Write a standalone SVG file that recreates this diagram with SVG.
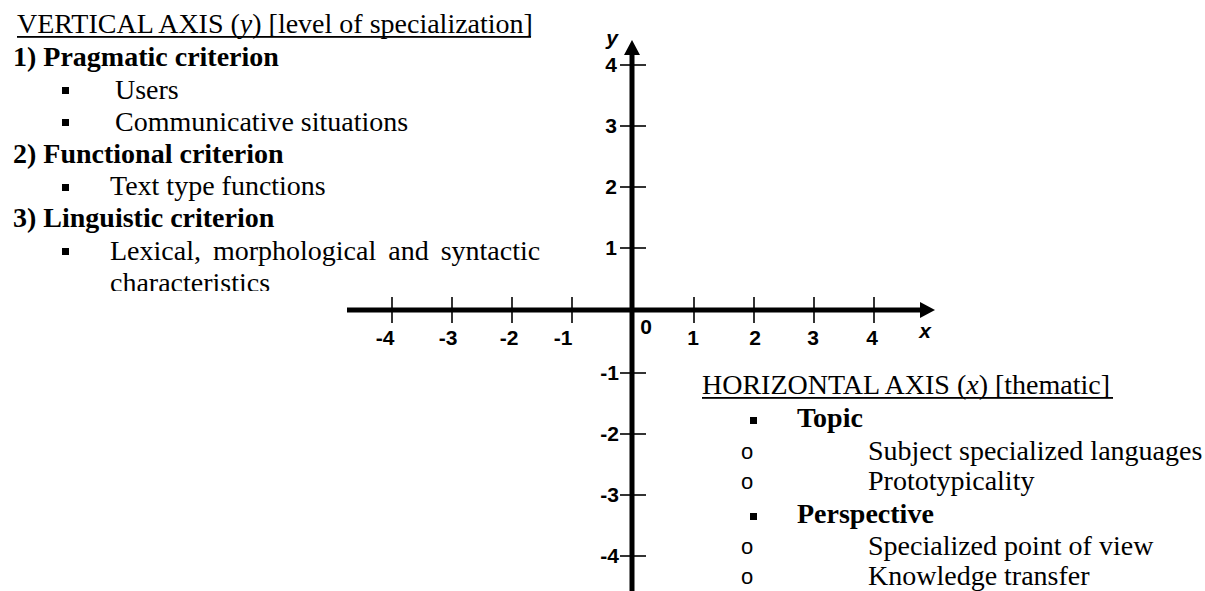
<svg xmlns="http://www.w3.org/2000/svg" width="1205" height="591" viewBox="0 0 1205 591">
<style>
.t{font-family:"Liberation Serif","Times New Roman",serif;font-size:28px;fill:#000}
.b{font-weight:bold}
.n{font-family:"Liberation Sans",Arial,sans-serif;font-size:21px;font-weight:bold;fill:#000}
.ax{stroke:#000;stroke-width:5;fill:none}
.tk{stroke:#000;stroke-width:1.6}
.o{font-family:"Liberation Sans",Arial,sans-serif;font-size:22px;fill:#000}
</style>
<defs>
<clipPath id="lc"><rect x="0" y="0" width="560" height="291"/></clipPath>
</defs>
<rect width="1205" height="591" fill="#fff"/>

<g id="vertical-legend" clip-path="url(#lc)">
<text class="t" x="17" y="33">VERTICAL AXIS (<tspan font-style="italic">y</tspan>) [level of specialization]</text>
<rect x="17" y="36" width="514" height="1.8" fill="#000"/>
<text class="t b" x="13" y="66">1) Pragmatic criterion</text>
<rect x="62" y="87" width="7" height="7" fill="#000"/>
<text class="t" x="115" y="99">Users</text>
<rect x="62" y="119" width="7" height="7" fill="#000"/>
<text class="t" x="115" y="131">Communicative situations</text>
<text class="t b" x="13" y="163">2) Functional criterion</text>
<rect x="62" y="184" width="7" height="7" fill="#000"/>
<text class="t" x="110" y="195">Text type functions</text>
<text class="t b" x="13" y="227">3) Linguistic criterion</text>
<rect x="62" y="248" width="7" height="7" fill="#000"/>
<text class="t" x="110" y="260" word-spacing="5">Lexical, morphological and syntactic</text>
<text class="t" x="110" y="292">characteristics</text>
</g>

<g id="axes">
<line class="ax" x1="347" y1="310" x2="924" y2="310"/>
<polygon points="920,302 935,310 920,318" fill="#000"/>
<line class="ax" x1="632" y1="52" x2="632" y2="591"/>
<polygon points="624,55 632,40 640,55" fill="#000"/>
<g id="x-ticks">
<line class="tk" x1="392" y1="297" x2="392" y2="323"/>
<line class="tk" x1="452" y1="297" x2="452" y2="323"/>
<line class="tk" x1="512" y1="297" x2="512" y2="323"/>
<line class="tk" x1="572" y1="297" x2="572" y2="323"/>
<line class="tk" x1="694" y1="297" x2="694" y2="323"/>
<line class="tk" x1="754" y1="297" x2="754" y2="323"/>
<line class="tk" x1="814" y1="297" x2="814" y2="323"/>
<line class="tk" x1="874" y1="297" x2="874" y2="323"/>
</g>
<g id="y-ticks">
<line class="tk" x1="620" y1="65" x2="646" y2="65"/>
<line class="tk" x1="620" y1="126" x2="646" y2="126"/>
<line class="tk" x1="620" y1="187" x2="646" y2="187"/>
<line class="tk" x1="620" y1="248" x2="646" y2="248"/>
<line class="tk" x1="620" y1="373" x2="646" y2="373"/>
<line class="tk" x1="620" y1="434" x2="646" y2="434"/>
<line class="tk" x1="620" y1="495" x2="646" y2="495"/>
<line class="tk" x1="620" y1="556" x2="646" y2="556"/>
</g>
<g id="x-labels" text-anchor="middle">
<text class="n" x="385" y="345">-4</text>
<text class="n" x="448" y="345">-3</text>
<text class="n" x="509" y="345">-2</text>
<text class="n" x="563" y="345">-1</text>
<text class="n" x="646" y="334">0</text>
<text class="n" x="693" y="345">1</text>
<text class="n" x="755" y="345">2</text>
<text class="n" x="813" y="345">3</text>
<text class="n" x="872" y="345">4</text>
<text class="n" x="925" y="338" font-style="italic">x</text>
</g>
<g id="y-labels" text-anchor="end">
<text class="n" x="618" y="45" font-style="italic">y</text>
<text class="n" x="617" y="72">4</text>
<text class="n" x="617" y="133">3</text>
<text class="n" x="617" y="194">2</text>
<text class="n" x="617" y="255">1</text>
<text class="n" x="619" y="380">-1</text>
<text class="n" x="619" y="441">-2</text>
<text class="n" x="619" y="502">-3</text>
<text class="n" x="619" y="563">-4</text>
</g>
</g>

<g id="horizontal-legend">
<text class="t" x="702" y="394">HORIZONTAL AXIS (<tspan font-style="italic">x</tspan>) [thematic]</text>
<rect x="702" y="397" width="411" height="1.8" fill="#000"/>
<rect x="750" y="417" width="7" height="7" fill="#000"/>
<text class="t b" x="797" y="427">Topic</text>
<text class="o" x="741" y="459">o</text>
<text class="t" x="868" y="460">Subject specialized languages</text>
<text class="o" x="741" y="489">o</text>
<text class="t" x="868" y="490">Prototypicality</text>
<rect x="750" y="513" width="7" height="7" fill="#000"/>
<text class="t b" x="797" y="523">Perspective</text>
<text class="o" x="741" y="554">o</text>
<text class="t" x="868" y="555">Specialized point of view</text>
<text class="o" x="741" y="584">o</text>
<text class="t" x="868" y="585">Knowledge transfer</text>
</g>
</svg>
